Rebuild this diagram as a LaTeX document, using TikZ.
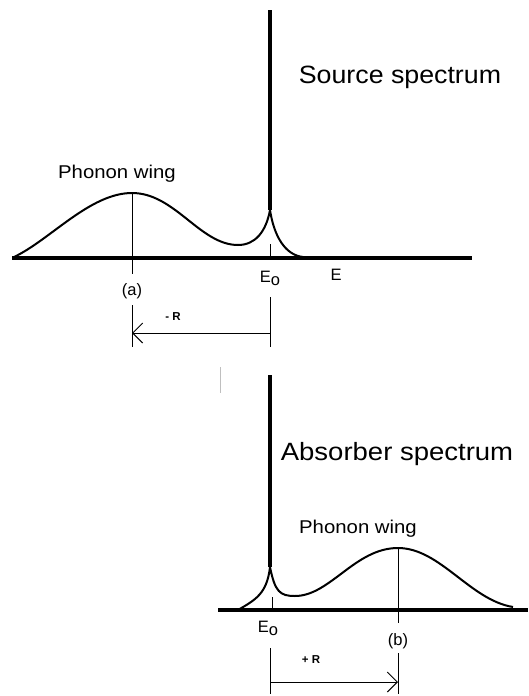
\documentclass[tikz,border=0pt]{standalone}
\usepackage{fontspec}
\setmainfont{Liberation Sans}
\usetikzlibrary{arrows.meta}
\tikzset{
  axisline/.style={line width=3.2pt},
  spike/.style={line width=3.4pt},
  curve/.style={line width=2pt, line join=round},
  thin/.style={line width=1pt},
  dimarrow/.style={line width=1pt, -{Straight Barb[length=10pt,width=20pt,line width=1pt]}},
  lbl/.style={inner sep=0pt, anchor=base},
}
\newcommand{\bigtxt}[2]{{\fontsize{25}{28}\selectfont\scalebox{#1}[1]{#2}}}
\newcommand{\wingtxt}[1]{{\fontsize{18.5}{21}\selectfont\scalebox{1.1}[1]{#1}}}
\newcommand{\smtxt}[1]{{\fontsize{16.5}{19}\selectfont #1}}
\newcommand{\Eo}{\smtxt{E\raisebox{-0.45ex}{o}}}
\begin{document}
\begin{tikzpicture}[x=1pt,y=-1pt]
\useasboundingbox (0,0) rectangle (528,696);
% ---------- Source spectrum ----------
\coordinate (axL1) at (12,258);
\coordinate (axR1) at (472,258);
\coordinate (spTop1) at (270,10);
\coordinate (cusp1) at (270,210);
\coordinate (peakA) at (132,193);
\draw[axisline] (axL1) -- (axR1);
\draw[spike] (spTop1) -- (cusp1);
\draw[curve] (14,257) .. controls (50,240) and (90,193) .. (peakA)
  .. controls (175,193) and (200,245) .. (238,245)
  .. controls (255,245) and (266,232) .. (cusp1)
  .. controls (274,236) and (285,255) .. (303,257);
\coordinate (aBot) at (132,274);
\draw[thin] (peakA) -- (aBot);
\coordinate (eTick1) at (270,244);
\draw[thin] (eTick1) -- (270,258);
\node[lbl] (src) at (400,83) {\bigtxt{1.07}{Source spectrum}};
\node[lbl] (wingA) at (117,178) {\wingtxt{Phonon wing}};
\node (alab) at (132,291) {\smtxt{(a)}};
\node[lbl] (eo1) at (270,282) {\Eo};
\node[lbl] (elab) at (336,280) {\smtxt{E}};
\coordinate (aL1) at (132,305);
\coordinate (aL2) at (132,347);
\coordinate (eL1) at (270,297);
\coordinate (eL2) at (270,347);
\draw[thin] (aL1) -- (aL2);
\draw[thin] (eL1) -- (eL2);
\coordinate (arrA) at (132,333);
\coordinate (arrE) at (270,333);
\draw[dimarrow] (arrE) -- (arrA);
\node[lbl] (mR) at (173,320) {\fontsize{11.5}{13}\selectfont\bfseries - R};
% ---------- Absorber spectrum ----------
\draw[gray!50, line width=1pt] (220,367) -- (220,393);
\coordinate (axL2) at (218,610);
\coordinate (axR2) at (528,610);
\coordinate (spTop2) at (270,375);
\coordinate (cusp2) at (270,567);
\coordinate (peakB) at (398,548);
\draw[axisline] (axL2) -- (axR2);
\draw[spike] (spTop2) -- (cusp2);
\draw[curve] (238,610) .. controls (255,600) and (267,594) .. (cusp2)
  .. controls (275,592) and (280,596) .. (295,596)
  .. controls (330,596) and (355,548) .. (peakB)
  .. controls (440,548) and (470,600) .. (513,607);
\draw[thin] (peakB) -- (398,623);
\draw[thin] (272,597) -- (272,610);
\node[lbl] (abs) at (397,460) {\bigtxt{1.1}{Absorber spectrum}};
\node[lbl] (wingB) at (358,533) {\wingtxt{Phonon wing}};
\node[lbl] (eo2) at (268,632) {\Eo};
\node (blab) at (398,641) {\smtxt{(b)}};
\coordinate (bL1) at (398,653);
\coordinate (bL2) at (398,694);
\coordinate (e2L1) at (270,648);
\coordinate (e2L2) at (270,694);
\draw[thin] (bL1) -- (bL2);
\draw[thin] (e2L1) -- (e2L2);
\coordinate (arrB) at (398,682);
\coordinate (arrE2) at (270,682);
\draw[dimarrow] (arrE2) -- (arrB);
\node[lbl] (pR) at (311,663) {\fontsize{11.5}{13}\selectfont\bfseries + R};
\end{tikzpicture}
\end{document}
